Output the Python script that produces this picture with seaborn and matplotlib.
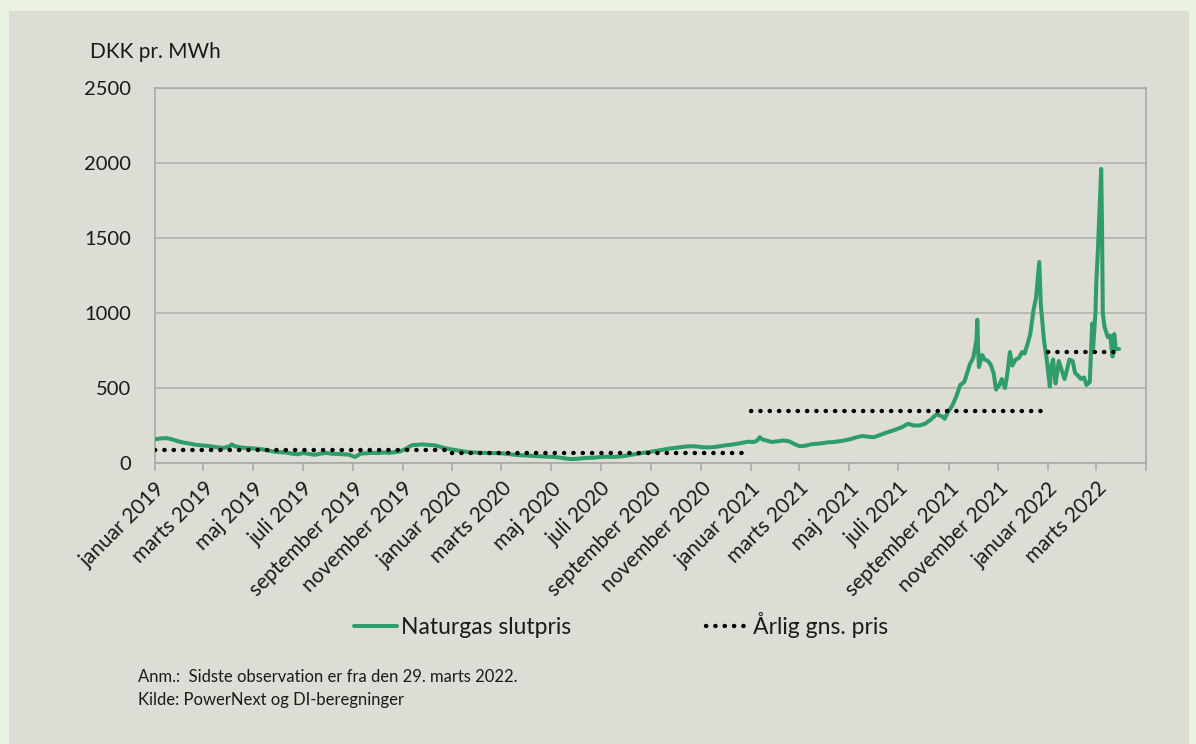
import matplotlib
matplotlib.use("Agg")
import matplotlib.pyplot as plt
from matplotlib.patches import Rectangle
from matplotlib.lines import Line2D
import numpy as np
import pandas as pd
import seaborn as sns

# ---------------- data ----------------
price_dates = [
    "2019-01-01", "2019-01-08", "2019-01-15", "2019-01-22", "2019-01-29", "2019-02-05", "2019-02-12",
    "2019-02-19", "2019-02-26", "2019-03-05", "2019-03-12", "2019-03-19", "2019-03-26", "2019-04-02",
    "2019-04-05", "2019-04-09", "2019-04-16", "2019-04-23", "2019-04-30", "2019-05-07", "2019-05-14",
    "2019-05-21", "2019-05-28", "2019-06-04", "2019-06-11", "2019-06-18", "2019-06-25", "2019-07-02",
    "2019-07-09", "2019-07-16", "2019-07-23", "2019-07-30", "2019-08-06", "2019-08-13", "2019-08-20",
    "2019-08-27", "2019-09-03", "2019-09-06", "2019-09-10", "2019-09-17", "2019-09-24", "2019-10-01",
    "2019-10-08", "2019-10-15", "2019-10-22", "2019-10-29", "2019-11-05", "2019-11-12", "2019-11-19",
    "2019-11-26", "2019-12-03", "2019-12-10", "2019-12-17", "2019-12-24", "2019-12-31",
    "2020-01-07", "2020-01-14", "2020-01-21", "2020-01-28", "2020-02-04", "2020-02-11", "2020-02-18",
    "2020-02-25", "2020-03-03", "2020-03-10", "2020-03-17", "2020-03-24", "2020-03-31", "2020-04-07",
    "2020-04-14", "2020-04-21", "2020-04-28", "2020-05-05", "2020-05-12", "2020-05-19", "2020-05-26",
    "2020-06-02", "2020-06-09", "2020-06-16", "2020-06-23", "2020-06-30", "2020-07-07", "2020-07-14",
    "2020-07-21", "2020-07-28", "2020-08-04", "2020-08-11", "2020-08-18", "2020-08-25", "2020-09-01",
    "2020-09-08", "2020-09-15", "2020-09-22", "2020-09-29", "2020-10-06", "2020-10-13", "2020-10-20",
    "2020-10-27", "2020-11-03", "2020-11-10", "2020-11-17", "2020-11-24", "2020-12-01", "2020-12-08",
    "2020-12-15", "2020-12-22", "2020-12-29",
    "2021-01-05", "2021-01-09", "2021-01-12", "2021-01-15", "2021-01-20", "2021-01-27", "2021-02-03",
    "2021-02-10", "2021-02-17", "2021-02-24", "2021-03-02", "2021-03-09", "2021-03-16", "2021-03-23",
    "2021-03-30", "2021-04-06", "2021-04-13", "2021-04-20", "2021-04-27", "2021-05-04", "2021-05-11",
    "2021-05-18", "2021-05-25", "2021-06-01", "2021-06-08", "2021-06-15", "2021-06-22", "2021-06-29",
    "2021-07-06", "2021-07-13", "2021-07-20", "2021-07-27", "2021-08-03", "2021-08-10", "2021-08-17",
    "2021-08-24", "2021-08-27", "2021-08-31", "2021-09-05", "2021-09-10", "2021-09-15", "2021-09-20",
    "2021-09-27", "2021-10-01", "2021-10-05", "2021-10-06", "2021-10-07", "2021-10-08", "2021-10-12",
    "2021-10-15", "2021-10-19", "2021-10-22", "2021-10-26", "2021-10-29", "2021-11-02", "2021-11-05",
    "2021-11-09", "2021-11-12", "2021-11-15", "2021-11-18", "2021-11-22", "2021-11-26", "2021-11-30",
    "2021-12-03", "2021-12-07", "2021-12-10", "2021-12-14", "2021-12-17", "2021-12-21", "2021-12-23",
    "2021-12-27", "2021-12-30",
    "2022-01-03", "2022-01-05", "2022-01-07", "2022-01-10", "2022-01-12", "2022-01-14", "2022-01-18",
    "2022-01-21", "2022-01-24", "2022-01-27", "2022-01-31", "2022-02-03", "2022-02-07", "2022-02-10",
    "2022-02-14", "2022-02-17", "2022-02-21", "2022-02-24", "2022-02-25", "2022-02-28", "2022-03-01",
    "2022-03-03", "2022-03-07", "2022-03-08", "2022-03-09", "2022-03-11", "2022-03-15", "2022-03-18",
    "2022-03-21", "2022-03-23", "2022-03-25", "2022-03-29",
]
price_values = [
    158, 164, 166, 158, 145, 136, 130,
    122, 118, 115, 110, 105, 100, 110,
    124, 112, 104, 100, 98, 95, 90,
    82, 75, 72, 70, 62, 58, 66,
    60, 55, 62, 67, 62, 60, 58,
    56, 40, 48, 62, 65, 68, 66,
    70, 68, 72, 78, 95, 118, 122,
    124, 120, 118, 108, 98, 90,
    84, 78, 72, 70, 68, 67, 66,
    66, 64, 60, 55, 52, 50, 48,
    46, 44, 42, 40, 36, 30, 26,
    28, 32, 35, 36, 40, 42, 40,
    42, 45, 52, 58, 64, 70, 76,
    82, 88, 95, 100, 105, 110, 112,
    110, 105, 104, 106, 112, 118, 122,
    128, 135, 142,
    140, 150, 172, 158, 150, 140, 145,
    150, 145, 125, 112, 115, 125, 128,
    132, 138, 140, 145, 152, 160, 172,
    180, 175, 172, 185, 200, 212, 225,
    240, 262, 250, 250, 262, 290, 325,
    310, 295, 340, 380, 440, 520, 540,
    660, 700, 820, 955, 760, 640, 720,
    690, 680, 660, 600, 490, 520, 560,
    500, 600, 740, 650, 690, 700, 740,
    730, 800, 860, 1020, 1100, 1340, 1050,
    810, 700,
    510, 650, 690, 530, 600, 680, 610,
    560, 620, 690, 680, 600, 580, 560,
    570, 520, 540, 930, 760, 1000, 1200,
    1420, 1960, 1600, 1000, 910, 840, 850,
    710, 860, 760, 760,
]

avg_years = ["2019", "2020", "2021", "2022"]
avg_values = [90, 70, 345, 738]
avg_start = ["2019-01-01", "2020-01-01", "2021-01-01", "2022-01-01"]
avg_end = ["2019-12-31", "2020-12-31", "2021-12-28", "2022-03-29"]

tick_dates = ["2019-01-01", "2019-03-01", "2019-05-01", "2019-07-01", "2019-09-01", "2019-11-01",
              "2020-01-01", "2020-03-01", "2020-05-01", "2020-07-01", "2020-09-01", "2020-11-01",
              "2021-01-01", "2021-03-01", "2021-05-01", "2021-07-01", "2021-09-01", "2021-11-01",
              "2022-01-01", "2022-03-01", "2022-05-01"]
tick_labels = ["januar 2019", "marts 2019", "maj 2019", "juli 2019", "september 2019", "november 2019",
               "januar 2020", "marts 2020", "maj 2020", "juli 2020", "september 2020", "november 2020",
               "januar 2021", "marts 2021", "maj 2021", "juli 2021", "september 2021", "november 2021",
               "januar 2022", "marts 2022", ""]
y_ticks = [0, 500, 1000, 1500, 2000, 2500]

series_label = "Naturgas slutpris"
avg_label = "Årlig gns. pris"

# ---------------- frames ----------------
df_price = pd.DataFrame({"dato": pd.to_datetime(price_dates), "pris": price_values})
rows = []
for yr, v, s, e in zip(avg_years, avg_values, avg_start, avg_end):
    rows.append({"aar": yr, "dato": pd.Timestamp(s), "pris": v})
    rows.append({"aar": yr, "dato": pd.Timestamp(e), "pris": v})
df_avg = pd.DataFrame(rows)

# ---------------- style ----------------
sns.set_theme(style="white")
plt.rcParams["font.family"] = ["Lato", "DejaVu Sans"]

BG = "#dcddd5"
GREEN = "#2f9d69"
GRID = "#b9bab3"
TXT = "#1a1a1a"
DOTS = (0, (0.05, 2.05))
LW_G = 2.9
LW_D = 3.2

fig = plt.figure(figsize=(11.96, 7.44), dpi=100, facecolor="#e9f1e1")
W, H = 1196, 744
card = Rectangle((9 / W, 0), (1189 - 9) / W, 1 - 11 / H, transform=fig.transFigure,
                 facecolor=BG, edgecolor="none", zorder=-10)
fig.add_artist(card)

ax = fig.add_axes([155 / W, 1 - 463 / H, (1146 - 155) / W, (463 - 88) / H])
ax.set_facecolor(BG)
ax.set_zorder(1)

sns.lineplot(data=df_price, x="dato", y="pris", ax=ax, color=GREEN, linewidth=LW_G,
             legend=False, zorder=3)
sns.lineplot(data=df_avg, x="dato", y="pris", units="aar", estimator=None, ax=ax,
             color="black", linewidth=LW_D, linestyle=DOTS,
             dash_capstyle="round", legend=False, zorder=4)

ax.set_ylim(0, 2500)
ax.set_yticks(y_ticks)
ax.set_yticklabels([str(v) for v in y_ticks])
ax.set_xlim(pd.Timestamp("2019-01-01"), pd.Timestamp("2022-05-01"))
ax.set_xticks(pd.to_datetime(tick_dates))
ax.set_xticklabels(tick_labels, rotation=45, ha="right", rotation_mode="anchor")

ax.grid(axis="y", color=GRID, linewidth=1.4)
ax.grid(axis="x", visible=False)
ax.set_axisbelow(True)
for sp in ax.spines.values():
    sp.set_color("#a9aaa4")
    sp.set_linewidth(1.2)

ax.tick_params(axis="y", length=0, pad=17, labelsize=14.5, labelcolor=TXT)
ax.tick_params(axis="x", length=6, width=1.2, color="#a9aaa4", pad=5, labelsize=15,
               labelcolor=TXT, direction="out", bottom=True)
ax.set_xlabel("")
ax.set_ylabel("")

handles = [Line2D([], [], color=GREEN, linewidth=LW_G),
           Line2D([], [], color="black", linewidth=LW_D, linestyle=DOTS, dash_capstyle="round")]
leg = fig.legend(handles, [series_label, avg_label], loc="center",
                 bbox_to_anchor=(621 / W, 1 - 625 / H), ncol=2,
                 frameon=False, fontsize=16.5, handlelength=1.9, handletextpad=0.15,
                 columnspacing=5.9)
for t in leg.get_texts():
    t.set_color(TXT)

fig.text(90 / W, 1 - 52 / H, "DKK pr. MWh", fontsize=15, color=TXT, va="center", ha="left")
fig.text(138 / W, 1 - 677 / H, "Anm.:  Sidste observation er fra den 29. marts 2022.",
         fontsize=12, color=TXT, va="center", ha="left")
fig.text(138 / W, 1 - 700 / H, "Kilde: PowerNext og DI-beregninger",
         fontsize=12, color=TXT, va="center", ha="left")

fig.savefig("out.png", dpi=100, facecolor=fig.get_facecolor())
